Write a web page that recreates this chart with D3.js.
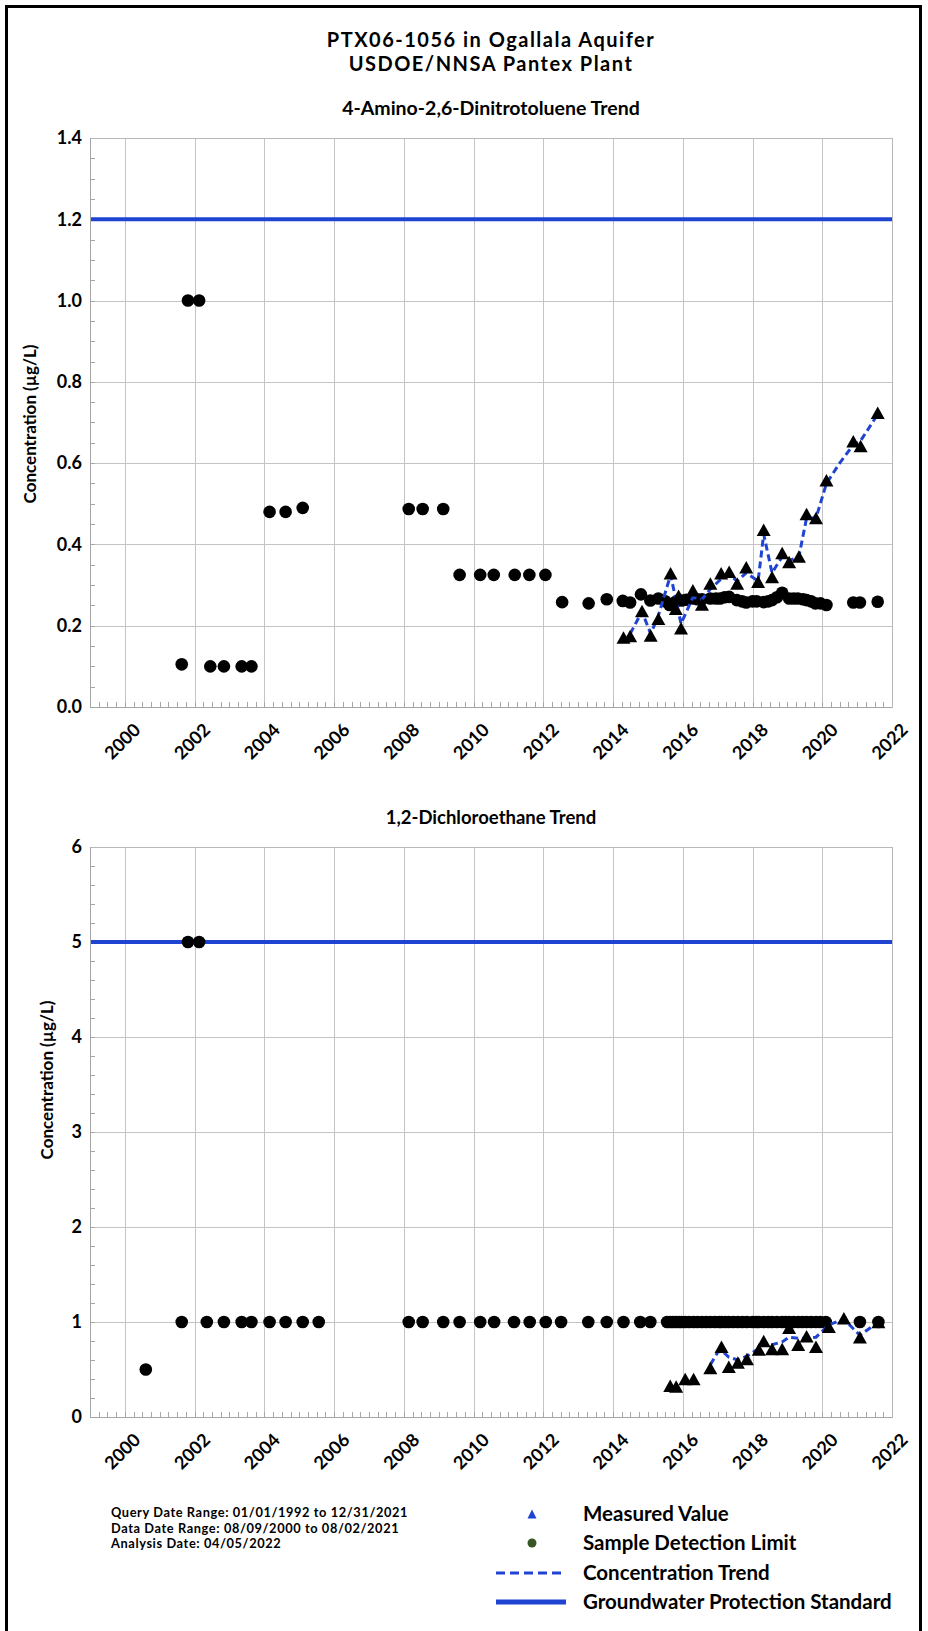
<!DOCTYPE html>
<html><head><meta charset="utf-8">
<script src="https://cdn.jsdelivr.net/npm/d3@7"></script>
<style>
html,body{margin:0;padding:0;background:#fff;}
svg{display:block;font-family:Lato,"Open Sans",sans-serif;}
</style></head><body>
<svg id="c" width="928" height="1631"></svg>
<script>
// ---------------- DATA ----------------
const titleLines = ["PTX06-1056 in Ogallala Aquifer", "USDOE/NNSA Pantex Plant"];
const panelTitles = ["4-Amino-2,6-Dinitrotoluene Trend", "1,2-Dichloroethane Trend"];
const yAxisTitle = "Concentration (µg/L)";
const xTickYears = [2000, 2002, 2004, 2006, 2008, 2010, 2012, 2014, 2016, 2018, 2020, 2022];
const topYTicks = [0, 0.2, 0.4, 0.6, 0.8, 1.0, 1.2, 1.4];
const bottomYTicks = [0, 1, 2, 3, 4, 5, 6];
const topStandard = 1.2;
const bottomStandard = 5;

// 4-Amino-2,6-Dinitrotoluene : sample detection limits (decimal year, µg/L)
const topLimitDates = [2001.63, 2001.81, 2002.13, 2002.45, 2002.84, 2003.35, 2003.63, 2004.15, 2004.61, 2005.10,
  2008.14, 2008.54, 2009.13, 2009.60, 2010.19, 2010.58, 2011.18, 2011.60, 2012.06, 2012.54, 2013.30, 2013.82,
  2014.28, 2014.49, 2014.80, 2015.07, 2015.30, 2015.50, 2015.62, 2015.78, 2015.97, 2016.10, 2016.29, 2016.42,
  2016.55, 2016.79, 2016.95, 2017.07, 2017.20, 2017.33, 2017.55, 2017.70, 2017.82, 2018.00, 2018.12, 2018.32,
  2018.45, 2018.56, 2018.70, 2018.85, 2019.05, 2019.18, 2019.30, 2019.45, 2019.55, 2019.68, 2019.80, 2019.95,
  2020.12, 2020.89, 2021.08, 2021.59];
const topLimitValues = [0.105, 1.0, 1.0, 0.10, 0.10, 0.10, 0.10, 0.48, 0.48, 0.49,
  0.487, 0.487, 0.487, 0.325, 0.325, 0.325, 0.325, 0.325, 0.325, 0.258, 0.255, 0.265,
  0.261, 0.257, 0.277, 0.262, 0.267, 0.26, 0.251, 0.258, 0.262, 0.264, 0.267, 0.265,
  0.265, 0.267, 0.267, 0.267, 0.27, 0.271, 0.263, 0.26, 0.257, 0.26, 0.26, 0.258,
  0.26, 0.263, 0.27, 0.281, 0.267, 0.267, 0.267, 0.265, 0.263, 0.26, 0.255, 0.255,
  0.251, 0.257, 0.257, 0.259];
// measured values
const topMeasuredDates = [2014.30, 2014.49, 2014.83, 2015.08, 2015.30, 2015.65, 2015.80, 2015.88, 2015.95,
  2016.29, 2016.55, 2016.79, 2017.10, 2017.33, 2017.56, 2017.82, 2018.16, 2018.32, 2018.56, 2018.85,
  2019.05, 2019.33, 2019.55, 2019.82, 2020.12, 2020.89, 2021.10, 2021.59];
const topMeasuredValues = [0.171, 0.175, 0.236, 0.176, 0.217, 0.329, 0.242, 0.274, 0.194,
  0.287, 0.252, 0.304, 0.329, 0.333, 0.304, 0.344, 0.308, 0.436, 0.320, 0.379,
  0.357, 0.370, 0.475, 0.465, 0.558, 0.654, 0.642, 0.724];
// concentration trend
const topTrendDates = [2014.49, 2014.83, 2015.08, 2015.30, 2015.65, 2015.95, 2016.29, 2016.55, 2016.79, 2017.10,
  2017.33, 2017.56, 2017.82, 2018.16, 2018.32, 2018.56, 2018.85, 2019.05, 2019.33, 2019.55, 2019.82, 2020.12,
  2020.50, 2020.89, 2021.10, 2021.59];
const topTrendValues = [0.18, 0.235, 0.18, 0.225, 0.325, 0.205, 0.27, 0.265, 0.29, 0.315,
  0.325, 0.31, 0.33, 0.31, 0.425, 0.33, 0.37, 0.36, 0.37, 0.465, 0.465, 0.55,
  0.60, 0.645, 0.655, 0.72];

// 1,2-Dichloroethane : sample detection limits
const botLimitDates = [2000.60, 2001.63, 2001.81, 2002.13, 2002.35, 2002.84, 2003.35, 2003.63, 2004.15, 2004.61,
  2005.10, 2005.56, 2008.14, 2008.54, 2009.13, 2009.60, 2010.19, 2010.59, 2011.16, 2011.61, 2012.07, 2012.51,
  2013.29, 2013.82, 2014.30, 2014.78, 2015.07, 2015.55, 2015.64, 2015.72, 2015.81, 2015.90, 2015.97, 2016.07,
  2016.18, 2016.31, 2016.42, 2016.55, 2016.67, 2016.79, 2016.92, 2017.04, 2017.11, 2017.22, 2017.32, 2017.45,
  2017.58, 2017.71, 2017.84, 2018.00, 2018.10, 2018.18, 2018.32, 2018.45, 2018.56, 2018.70, 2018.85, 2018.95,
  2019.05, 2019.18, 2019.31, 2019.43, 2019.55, 2019.68, 2019.82, 2019.94, 2020.10, 2021.08, 2021.61];
const botLimitValues = [0.5, 1, 5, 5, 1, 1, 1, 1, 1, 1,
  1, 1, 1, 1, 1, 1, 1, 1, 1, 1, 1, 1,
  1, 1, 1, 1, 1, 1, 1, 1, 1, 1, 1, 1,
  1, 1, 1, 1, 1, 1, 1, 1, 1, 1, 1, 1,
  1, 1, 1, 1, 1, 1, 1, 1, 1, 1, 1, 1,
  1, 1, 1, 1, 1, 1, 1, 1, 1, 1, 1];
const botMeasuredDates = [2015.64, 2015.81, 2016.07, 2016.31, 2016.79, 2017.11, 2017.32, 2017.58, 2017.84,
  2018.18, 2018.32, 2018.56, 2018.85, 2019.05, 2019.31, 2019.55, 2019.82, 2020.19, 2020.62, 2021.08, 2021.61];
const botMeasuredValues = [0.33, 0.32, 0.40, 0.40, 0.515, 0.74, 0.53, 0.575, 0.61,
  0.71, 0.80, 0.715, 0.715, 0.94, 0.76, 0.85, 0.74, 0.95, 1.04, 0.84, 1.0];
const botTrendDates = [2016.79, 2017.00, 2017.11, 2017.32, 2017.58, 2017.84, 2018.18, 2018.32, 2018.56, 2018.85,
  2019.05, 2019.31, 2019.55, 2019.82, 2020.19, 2020.62, 2021.08, 2021.61];
const botTrendValues = [0.55, 0.68, 0.70, 0.63, 0.60, 0.64, 0.72, 0.78, 0.76, 0.79,
  0.84, 0.83, 0.83, 0.84, 0.97, 1.03, 0.86, 1.0];

const infoLines = ["Query Date Range: 01/01/1992 to 12/31/2021", "Data Date Range: 08/09/2000 to 08/02/2021", "Analysis Date: 04/05/2022"];
const legendLabels = ["Measured Value", "Sample Detection Limit", "Concentration Trend", "Groundwater Protection Standard"];

// ---------------- STYLE ----------------
const BLUE = "#1f44d2";
const GRID = "#c4c4c4";
const AXIS = "#a6a6a6";
const svg = d3.select("#c");
const X0 = 90, X1 = 892;

svg.append("rect").attr("x", 6.5).attr("y", 6.5).attr("width", 914).attr("height", 1660)
  .attr("fill", "none").attr("stroke", "#000").attr("stroke-width", 3);

svg.selectAll("text.mt").data(titleLines).join("text").attr("class", "mt")
  .attr("x", (X0 + X1) / 2).attr("y", (d, i) => 46.5 + i * 24)
  .attr("text-anchor", "middle").attr("font-size", 20).attr("letter-spacing", 1.5)
  .attr("font-weight", 700).text(d => d);

function triPath(w, h) {
  const p = d3.path();
  p.moveTo(0, -h / 2); p.lineTo(w / 2, h / 2); p.lineTo(-w / 2, h / 2); p.closePath();
  return p.toString();
}

function panel(cfg) {
  const g = svg.append("g");
  const x = d3.scaleLinear().domain([1999, 2022]).range([X0, X1]);
  const y = d3.scaleLinear().domain([cfg.yTicks[0], cfg.yTicks[cfg.yTicks.length - 1]]).range([cfg.yBot, cfg.yTop]);
  const h = cfg.yBot - cfg.yTop;

  g.append("text").attr("x", (X0 + X1) / 2).attr("y", cfg.yTop - 23).attr("text-anchor", "middle")
    .attr("font-size", cfg.titleSize).attr("font-weight", 700).text(cfg.title);

  // grid lines via axes
  const gx = g.append("g").attr("transform", `translate(0,${cfg.yBot})`)
    .call(d3.axisBottom(x).tickValues(xTickYears).tickSize(-h).tickFormat(""));
  gx.select(".domain").remove();
  gx.selectAll("line").attr("stroke", GRID).attr("shape-rendering", "crispEdges");
  const gy = g.append("g").attr("transform", `translate(${X0},0)`)
    .call(d3.axisLeft(y).tickValues(cfg.yTicks).tickSize(-(X1 - X0)).tickFormat(cfg.fmt).tickPadding(8));
  gy.select(".domain").remove();
  gy.selectAll("line").attr("stroke", GRID).attr("shape-rendering", "crispEdges");
  gy.selectAll("text").attr("font-size", 18).attr("font-weight", 700).attr("fill", "#000")
    .attr("font-family", "Lato, sans-serif");

  // minor ticks
  const qs = d3.range(1999, 2022.001, 0.25);
  g.append("g").selectAll("line").data(qs).join("line")
    .attr("x1", d => Math.round(x(d)) + 0.5).attr("x2", d => Math.round(x(d)) + 0.5)
    .attr("y1", cfg.yBot).attr("y2", cfg.yBot - 5).attr("stroke", AXIS);
  const ms = d3.range(cfg.yTicks[0], cfg.yTicks[cfg.yTicks.length - 1] + 1e-9, cfg.minor);
  g.append("g").selectAll("line").data(ms).join("line")
    .attr("x1", X0).attr("x2", X0 + 5)
    .attr("y1", d => Math.round(y(d)) + 0.5).attr("y2", d => Math.round(y(d)) + 0.5).attr("stroke", AXIS);

  // plot frame
  g.append("rect").attr("x", X0 + 0.5).attr("y", cfg.yTop + 0.5).attr("width", X1 - X0).attr("height", h)
    .attr("fill", "none").attr("stroke", "#b8b8b8");
  g.append("line").attr("x1", X0 + 0.5).attr("x2", X0 + 0.5).attr("y1", cfg.yTop).attr("y2", cfg.yBot)
    .attr("stroke", AXIS);
  g.append("line").attr("x1", X0).attr("x2", X1).attr("y1", cfg.yBot + 0.5).attr("y2", cfg.yBot + 0.5)
    .attr("stroke", AXIS);

  // x labels
  const gl = g.append("g").attr("transform", `translate(0,${cfg.yBot})`)
    .call(d3.axisBottom(x).tickValues(xTickYears).tickSize(0).tickFormat(d3.format("d")));
  gl.select(".domain").remove();
  gl.selectAll("text").attr("font-size", 18).attr("font-weight", 700).attr("fill", "#000")
    .attr("font-family", "Lato, sans-serif")
    .attr("text-anchor", "end").attr("x", -5.5).attr("y", 28.5).attr("dy", 0)
    .attr("transform", "rotate(-45)");

  // y title
  g.append("text").attr("transform", `translate(${cfg.yTitleX},${cfg.yTitleY}) rotate(-90)`)
    .attr("text-anchor", "middle").attr("font-size", 17).attr("font-weight", 700).text(yAxisTitle);

  // standard line
  g.append("line").attr("x1", X0 + 1).attr("x2", X1).attr("y1", y(cfg.std)).attr("y2", y(cfg.std))
    .attr("stroke", BLUE).attr("stroke-width", 4);

  // detection limits
  g.append("g").selectAll("circle").data(cfg.limD).join("circle")
    .attr("cx", d => x(d)).attr("cy", (d, i) => y(cfg.limV[i])).attr("r", 6.3).attr("fill", "#000");

  // trend
  const line = d3.line().x(d => x(d[0])).y(d => y(d[1]));
  g.append("path").attr("d", line(d3.zip(cfg.trD, cfg.trV))).attr("fill", "none")
    .attr("stroke", BLUE).attr("stroke-width", 3).attr("stroke-dasharray", "7,4");

  // measured
  g.append("g").selectAll("path").data(cfg.meD).join("path")
    .attr("d", triPath(14, 12.5))
    .attr("transform", (d, i) => `translate(${x(d)},${y(cfg.meV[i])})`).attr("fill", "#000");
}

panel({title: panelTitles[0], titleSize: 19.5, yTop: 138, yBot: 707, yTicks: topYTicks, minor: 0.05, fmt: d3.format(".1f"),
  std: topStandard, limD: topLimitDates, limV: topLimitValues, meD: topMeasuredDates, meV: topMeasuredValues,
  trD: topTrendDates, trV: topTrendValues, yTitleX: 36, yTitleY: 424});
panel({title: panelTitles[1], titleSize: 18.5, yTop: 847, yBot: 1417, yTicks: bottomYTicks, minor: 0.2, fmt: d3.format("d"),
  std: bottomStandard, limD: botLimitDates, limV: botLimitValues, meD: botMeasuredDates, meV: botMeasuredValues,
  trD: botTrendDates, trV: botTrendValues, yTitleX: 53, yTitleY: 1080});

// info block
svg.selectAll("text.info").data(infoLines).join("text").attr("class", "info")
  .attr("x", 111).attr("y", (d, i) => 1517 + i * 15.5).attr("font-size", 12.8).attr("letter-spacing", 0.6)
  .attr("font-weight", 700).text(d => d);

// legend
const LY = [1514, 1543, 1573, 1602];
const lg = svg.append("g");
lg.append("path").attr("d", triPath(9, 9)).attr("transform", `translate(532,${LY[0]})`).attr("fill", BLUE);
lg.append("circle").attr("cx", 532).attr("cy", LY[1]).attr("r", 4.5).attr("fill", "#375623");
lg.append("line").attr("x1", 496).attr("x2", 566).attr("y1", LY[2]).attr("y2", LY[2])
  .attr("stroke", BLUE).attr("stroke-width", 3).attr("stroke-dasharray", "9,5");
lg.append("line").attr("x1", 496).attr("x2", 566).attr("y1", LY[3]).attr("y2", LY[3])
  .attr("stroke", BLUE).attr("stroke-width", 5);
lg.selectAll("text").data(legendLabels).join("text").attr("x", 583).attr("y", (d, i) => LY[i] + 7)
  .attr("font-size", 20.5).attr("font-weight", 700).text(d => d);
</script>
</body></html>
